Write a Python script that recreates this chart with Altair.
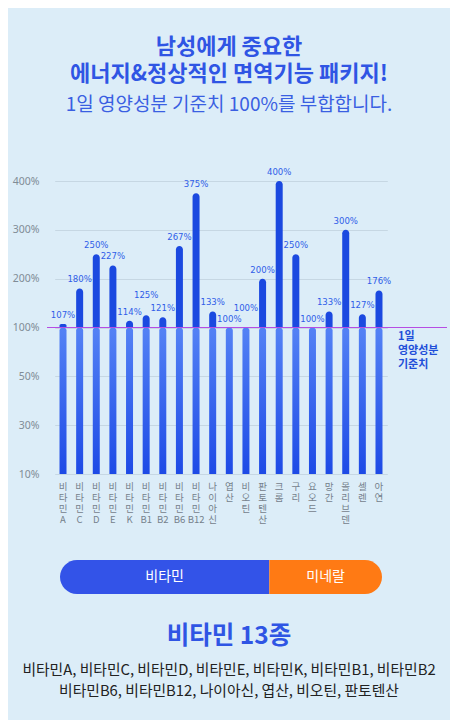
import altair as alt
import pandas as pd

# ---- data ----
nutrients = ["비타민A", "비타민C", "비타민D", "비타민E", "비타민K", "비타민B1", "비타민B2",
             "비타민B6", "비타민B12", "나이아신", "엽산", "비오틴", "판토텐산",
             "크롬", "구리", "요오드", "망간", "몰리브덴", "셀렌", "아연"]
percents = [107, 180, 250, 227, 114, 125, 121, 267, 375, 133, 100, 100, 200,
            400, 250, 100, 133, 300, 127, 176]
y_ticks = [10, 30, 50, 100, 200, 300, 400]
group_names = ["비타민", "미네랄"]
group_counts = [13, 7]

title_lines = ["남성에게 중요한", "에너지&정상적인 면역기능 패키지!"]
subtitle_line = "1일 영양성분 기준치 100%를 부합합니다."
ref_label = "1일\n영양성분\n기준치"

# ---- tables ----
df = pd.DataFrame({"name": nutrients, "pct": percents, "idx": list(range(len(nutrients)))})
gdf = pd.DataFrame({"group": group_names, "count": group_counts})
gdf["end"] = gdf["count"].cumsum()
gdf["start"] = gdf["end"] - gdf["count"]
gdf["mid"] = (gdf["start"] + gdf["end"]) / 2

vitamins = nutrients[:group_counts[0]]
heading = f"{group_names[0]} {group_counts[0]}종"
list1 = ", ".join(vitamins[:7])
list2 = ", ".join(vitamins[7:])

# ---- style ----
FONT = "Noto Sans CJK KR"
NARROW = "DejaVu Sans Condensed, Roboto, sans-serif"
BG = "#dcedf8"
BLUE_T = "#2f55e4"
W, H = 362, 293
n = len(y_ticks) - 1
y_range = [H - i * H / n for i in range(len(y_ticks))]

x_enc = alt.X(
    "name:N", sort=nutrients,
    scale=alt.Scale(range=[11.7, 344.3], paddingInner=0, paddingOuter=0),
    axis=alt.Axis(title=None, labelAngle=0, domain=False, ticks=False,
                  labelExpr="split(replace(datum.label, regexp('([가-힣])(?=.)', 'g'), '$1|'), '|')",
                  labelBaseline="top", labelLineHeight=11, labelPadding=7,
                  labelFontSize=9.5, labelColor="#75818c", labelFont=FONT, grid=False),
)
y_scale = alt.Scale(domain=y_ticks, range=y_range, nice=False, zero=False)
y_axis = alt.Axis(title=None, values=y_ticks, domain=False, ticks=False,
                  labelExpr="datum.value + '%'", labelPadding=4, labelFontSize=10.5,
                  labelColor="#808c96", labelFont="Noto Sans", gridColor="#c6d7e3",
                  gridWidth=1)

base = alt.Chart(df)

lower = base.transform_calculate(low="min(datum.pct, 100)").mark_bar(
    size=7, cornerRadiusTopLeft=3, cornerRadiusTopRight=3,
    color=alt.Gradient(gradient="linear", x1=0, x2=0, y1=0, y2=1,
                       stops=[alt.GradientStop(color="#5482f5", offset=0),
                              alt.GradientStop(color="#1d4ae6", offset=1)]),
).encode(x=x_enc, y=alt.Y("low:Q", scale=y_scale, axis=y_axis), y2=alt.datum(10))

upper = base.transform_filter("datum.pct > 100").mark_bar(
    size=7, cornerRadiusTopLeft=3.5, cornerRadiusTopRight=3.5, color="#1b49e0",
).encode(x=x_enc, y=alt.Y("pct:Q"), y2=alt.datum(100))

# labels of a bar that is barely taller than its left neighbour are lifted to avoid collisions
lab_base = base.transform_window(
    prev="lag(pct)", sort=[alt.SortField("idx")]
).transform_calculate(
    raise_="datum.prev != null && datum.pct >= datum.prev && datum.pct - datum.prev <= 12 ? 1 : 0",
    lbl="datum.pct + '%'"
)
lab_style = dict(fontSize=9.5, color="#2f5de8", font=NARROW,
                 baseline="bottom", align="center")
labels = lab_base.transform_filter("datum.raise_ == 0").mark_text(dy=-4, **lab_style).encode(
    x=x_enc, y=alt.Y("pct:Q"), text="lbl:N")
labels_hi = lab_base.transform_filter("datum.raise_ == 1").mark_text(dy=-15, **lab_style).encode(
    x=x_enc, y=alt.Y("pct:Q"), text="lbl:N")

ref_rule = alt.Chart(pd.DataFrame({"v": [100]})).mark_rule(
    color="#b64de3", strokeWidth=1.2
).encode(y=alt.datum(100), x=alt.value(4), x2=alt.value(404))

ref_text = alt.Chart(pd.DataFrame({"v": [100]})).mark_text(
    text=ref_label, lineBreak="\n", align="left", baseline="top", dy=3,
    fontSize=11, fontWeight="bold", color="#1f4fd9", font=FONT, lineHeight=14,
).encode(x=alt.value(355), y=alt.datum(100))

bars_layer = alt.layer(lower, upper, labels, labels_hi, ref_rule, ref_text)

# ---- pill + text below ----
px = alt.Scale(domain=[0, sum(group_counts)], range=[17, 339])
pill_base = alt.Chart(gdf)
pill_left = pill_base.transform_filter(alt.datum.group == group_names[0]).mark_bar(
    color="#3353e8", cornerRadiusTopLeft=17, cornerRadiusBottomLeft=17
).encode(x=alt.X("start:Q", scale=px, axis=None), x2="end:Q",
         y=alt.value(379), y2=alt.value(413))
pill_right = pill_base.transform_filter(alt.datum.group == group_names[1]).mark_bar(
    color="#ff7a14", cornerRadiusTopRight=17, cornerRadiusBottomRight=17
).encode(x=alt.X("start:Q", scale=px, axis=None), x2="end:Q",
         y=alt.value(379), y2=alt.value(413))
pill_text = pill_base.mark_text(color="white", fontSize=14, font=FONT, baseline="middle").encode(
    x=alt.X("mid:Q", scale=px, axis=None), y=alt.value(396), text="group:N")

one = pd.DataFrame({"k": [0]})
head_text = alt.Chart(one).mark_text(
    text=heading, fontSize=24.5, fontWeight="bold", color=BLUE_T, font=FONT, baseline="middle"
).encode(x=alt.value(186), y=alt.value(456))
line1_text = alt.Chart(one).mark_text(
    text=list1, fontSize=14.8, color="#222222", font=FONT, baseline="middle"
).encode(x=alt.value(186), y=alt.value(490))
line2_text = alt.Chart(one).mark_text(
    text=list2, fontSize=14.8, color="#222222", font=FONT, baseline="middle"
).encode(x=alt.value(186), y=alt.value(511))

pill_layer = alt.layer(pill_left, pill_right, pill_text, head_text, line1_text, line2_text)

chart = alt.layer(bars_layer, pill_layer).resolve_scale(x="independent").properties(
    width=W, height=H,
    title=alt.TitleParams(
        text=title_lines, subtitle=subtitle_line, anchor="middle", dx=5,
        fontSize=22, fontWeight="bold", color=BLUE_T, font=FONT, lineHeight=27,
        subtitleFontSize=19, subtitleColor="#3a5fe2", subtitleFont=FONT,
        subtitleFontWeight="normal", subtitlePadding=10, offset=51,
    ),
    background=BG,
    padding={"left": 35, "top": 173, "right": 45, "bottom": 246},
    autosize=alt.AutoSizeParams(type="none"),
).configure_view(stroke=None)

chart.save("out.html", embed_options={"renderer": "svg", "actions": False})
